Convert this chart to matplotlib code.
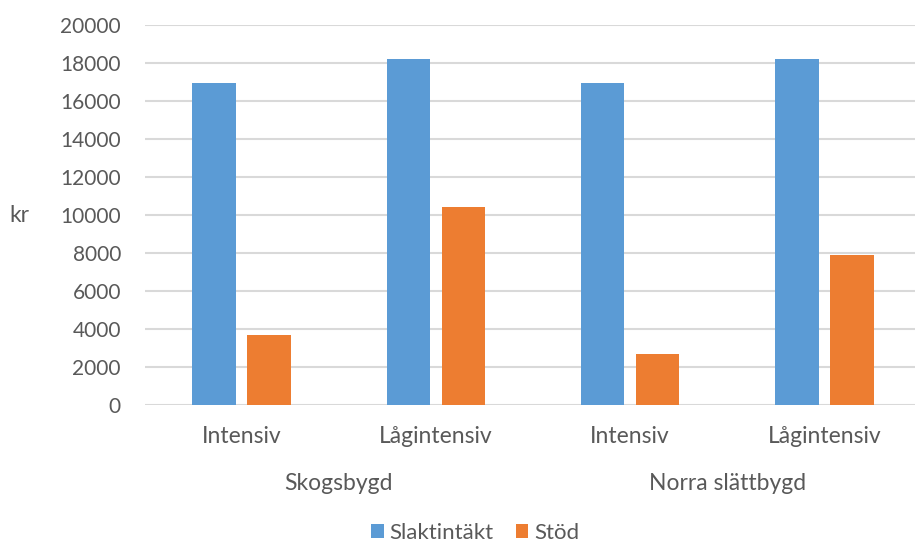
import numpy as np
import matplotlib.pyplot as plt
from matplotlib.transforms import blended_transform_factory

plt.rcParams['font.family'] = ['Lato', 'DejaVu Sans']

# data
regions = ['Skogsbygd', 'Norra slättbygd']
systems = ['Intensiv', 'Lågintensiv', 'Intensiv', 'Lågintensiv']
slaktintakt = [16920, 18200, 16920, 18200]
stod = [3670, 10420, 2670, 7900]

blue = '#5b9bd5'
orange = '#ed7d31'
grey = '#595959'

fig = plt.figure(figsize=(9.15, 5.43), dpi=100)
ax = fig.add_axes([0.158, 0.2547, 0.849, 0.70])

x = np.arange(len(systems))
w = 0.224
off = 0.1415
ax.bar(x - off, slaktintakt, w, color=blue, label='Slaktintäkt', zorder=3)
ax.bar(x + off, stod, w, color=orange, label='Stöd', zorder=3)

ax.set_xlim(-0.5, 3.5)
ax.set_ylim(0, 20000)
ax.set_yticks(np.arange(0, 20001, 2000))
ax.grid(axis='y', color='#d9d9d9', linewidth=1.5, zorder=0)
for s in ax.spines.values():
    s.set_visible(False)
ax.tick_params(axis='y', length=0, pad=17, labelsize=15, labelcolor=grey)
ax.tick_params(axis='x', length=0, pad=15.5, labelsize=16.5, labelcolor=grey)
ax.set_xticks(x)
ax.set_xticklabels(systems)

# region labels under each pair of categories
trans = blended_transform_factory(ax.transData, fig.transFigure)
for i, r in enumerate(regions):
    ax.text(2 * i + 0.5, 1 - 483 / 543, r, transform=trans, ha='center',
            va='center', fontsize=16.5, color=grey)

fig.text(19 / 915, 1 - 215 / 543, 'kr', ha='center', va='center',
         fontsize=16.5, color=grey)

fig.legend(loc='center', bbox_to_anchor=(475 / 915, 10 / 543), ncol=2,
           frameon=False, fontsize=16, labelcolor=grey, handlelength=0.57,
           handleheight=0.57, handletextpad=0.25, columnspacing=1.0,
           borderpad=0.1)

fig.savefig('out.png', dpi=100)
